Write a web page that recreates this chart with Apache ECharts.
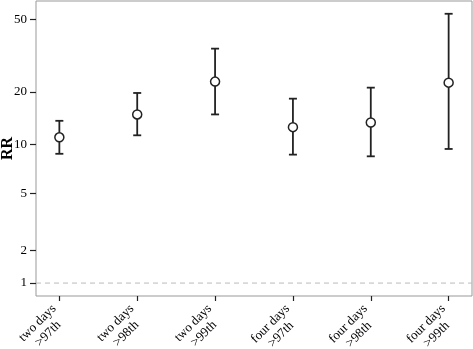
<!DOCTYPE html>
<html><head><meta charset="utf-8">
<script src="https://cdn.jsdelivr.net/npm/echarts@6/dist/echarts.min.js"></script>
<style>html,body{margin:0;padding:0;background:#fff}#c{width:473px;height:349px}</style>
</head><body><div id="c"></div>
<script>
var categories = ["two days\n>97th","two days\n>98th","two days\n>99th","four days\n>97th","four days\n>98th","four days\n>99th"];
var rr = [11.0, 14.9, 22.8, 12.6, 13.4, 22.5];
var lower = [8.8, 11.3, 14.9, 8.7, 8.5, 9.4];
var upper = [13.7, 19.7, 34.7, 18.3, 21.1, 53.8];
var yTicks = [1, 2, 5, 10, 20, 50];
var refLine = 1;

// y scale is log10(RR + 1)
function t(v){ return Math.log10(v + 1); }

var pts = rr.map(function(v,i){ return [i, t(v)]; });
var bars = rr.map(function(v,i){ return [i, t(lower[i]), t(upper[i])]; });
var FONT = "Liberation Serif";

var chart = echarts.init(document.getElementById('c'));
chart.setOption({
  animation: false,
  grid: {left: 36, right: 1, top: 1, bottom: 53, show: true, borderColor: '#999', borderWidth: 1, containLabel: false, outerBoundsMode: 'none'},
  xAxis: {
    type: 'value', min: -0.3, max: 5.3,
    splitLine: {show: false},
    axisLine: {show: false, onZero: false},
    axisTick: {show: true, length: 5, lineStyle: {color: '#222', width: 1.2}, customValues: [0,1,2,3,4,5]},
    axisLabel: {
      customValues: [0,1,2,3,4,5],
      rotate: 45, margin: 16,
      fontFamily: FONT, fontSize: 13, color: '#000',
      formatter: function(v){ var s = categories[Math.round(v)].split('\n'); return '{a|' + s[0] + '}\n{a|' + s[1] + '}'; },
      rich: {a: {align: 'center', fontFamily: FONT, fontSize: 13, color: '#000', lineHeight: 15}}
    }
  },
  yAxis: {
    type: 'value', min: 0.232, max: 1.807,
    name: 'RR', nameLocation: 'middle', nameGap: 20, nameRotate: 90, nameMoveOverlap: false,
    nameTextStyle: {fontFamily: FONT, fontSize: 16, fontWeight: 'bold', color: '#000'},
    splitLine: {show: false},
    axisLine: {show: false, onZero: false},
    axisTick: {show: true, length: 6, lineStyle: {color: '#222', width: 1.2}, customValues: yTicks.map(t)},
    axisLabel: {
      customValues: yTicks.map(t), margin: 9,
      fontFamily: FONT, fontSize: 13, color: '#000',
      formatter: function(v){ return String(Math.round(Math.pow(10, v) - 1)); }
    }
  },
  series: [
    {
      type: 'line', data: [[-0.3, t(refLine)], [5.3, t(refLine)]],
      symbol: 'none', silent: true,
      lineStyle: {color: '#bbb', width: 1, type: [5, 4]}, z: 1
    },
    {
      type: 'custom', data: bars, z: 2,
      renderItem: function(params, api){
        var x = api.value(0);
        var lo = api.coord([x, api.value(1)]);
        var hi = api.coord([x, api.value(2)]);
        var w = 4;
        var st = {stroke: '#222', lineWidth: 1.8};
        return {type: 'group', children: [
          {type: 'line', shape: {x1: lo[0], y1: lo[1], x2: hi[0], y2: hi[1]}, style: st},
          {type: 'line', shape: {x1: lo[0]-w, y1: lo[1], x2: lo[0]+w, y2: lo[1]}, style: st},
          {type: 'line', shape: {x1: hi[0]-w, y1: hi[1], x2: hi[0]+w, y2: hi[1]}, style: st}
        ]};
      }
    },
    {
      type: 'scatter', data: pts, z: 3,
      symbol: 'circle', symbolSize: 9,
      itemStyle: {color: '#fff', borderColor: '#222', borderWidth: 1.5, opacity: 1}
    }
  ]
});
</script></body></html>
